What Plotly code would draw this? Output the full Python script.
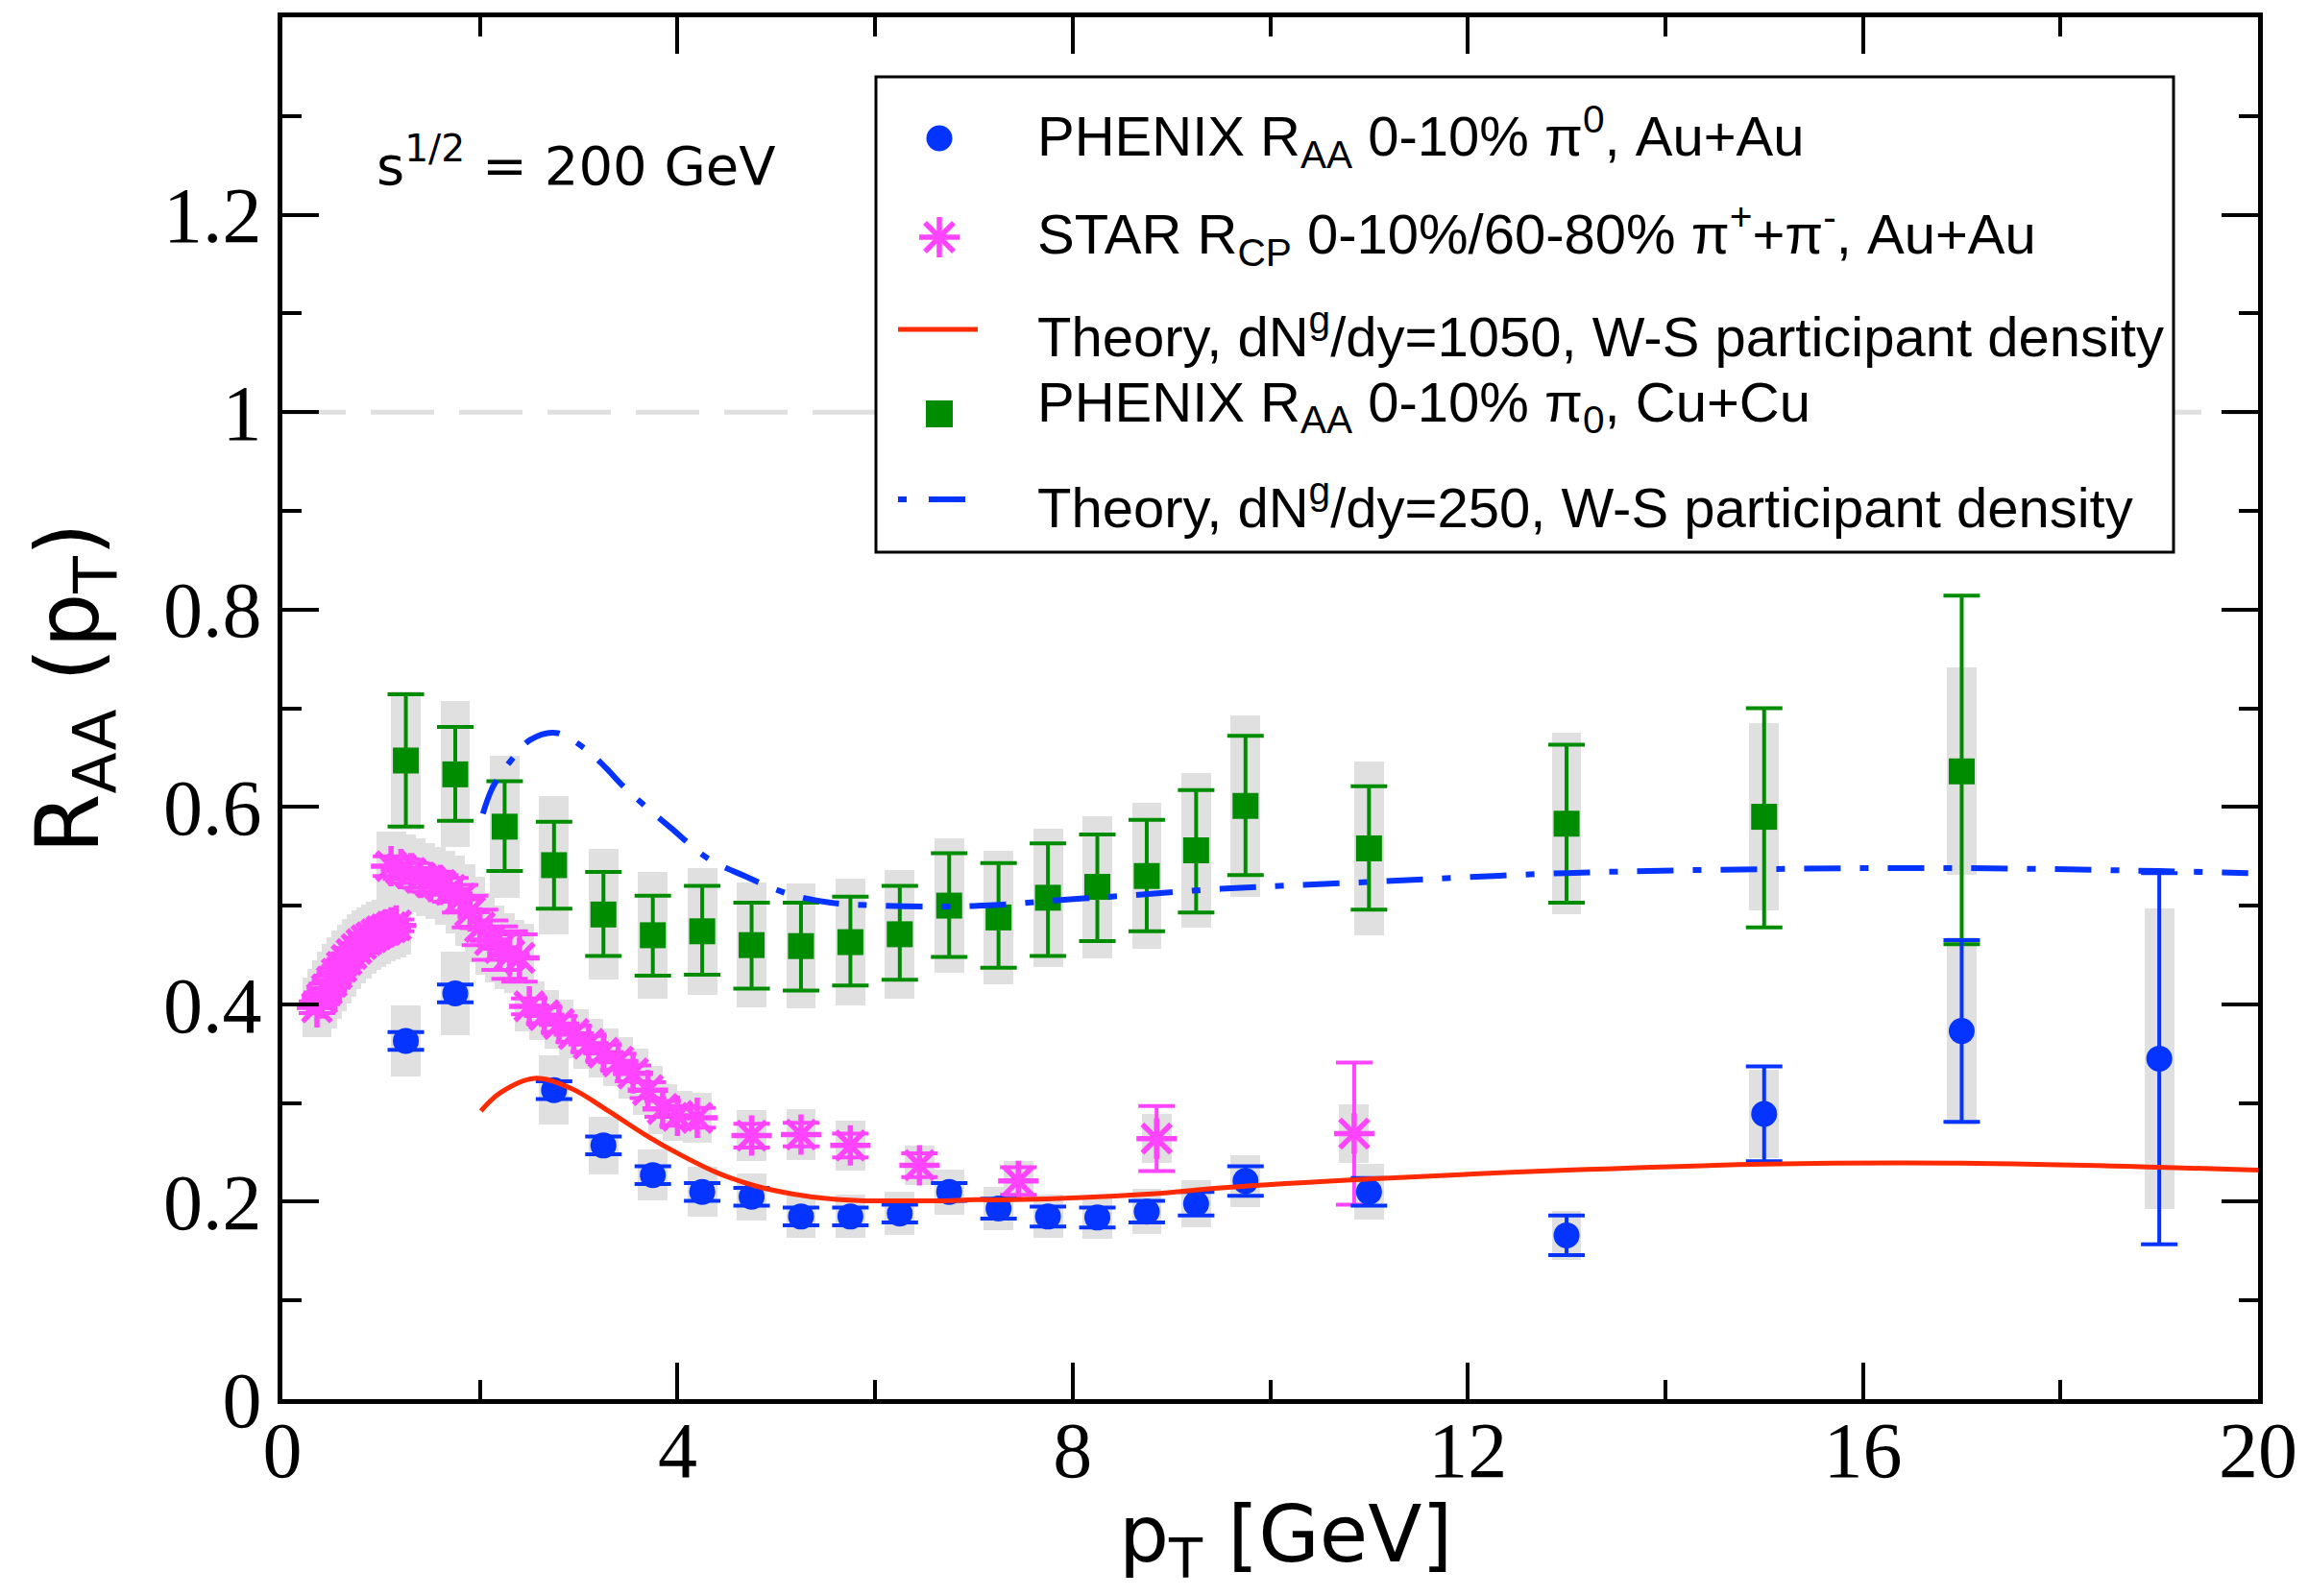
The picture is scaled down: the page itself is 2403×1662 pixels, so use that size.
import plotly.graph_objects as go

# ---------------- data ----------------
# PHENIX R_AA 0-10% pi0, Au+Au
blue_x = [1.25, 1.75, 2.75, 3.25, 3.75, 4.25, 4.75, 5.25, 5.75, 6.25, 6.75, 7.25,
          7.75, 8.25, 8.75, 9.25, 9.75, 11.0, 13.0, 15.0, 17.0, 19.0]
blue_y = [0.363, 0.411, 0.313, 0.257, 0.227, 0.210, 0.205, 0.185, 0.185, 0.188, 0.210, 0.193,
          0.185, 0.184, 0.190, 0.198, 0.221, 0.210, 0.166, 0.289, 0.373, 0.345]
blue_err = [0.009, 0.009, 0.009, 0.009, 0.009, 0.009, 0.009, 0.009, 0.009, 0.009, 0.009, 0.010,
            0.010, 0.010, 0.011, 0.012, 0.015, 0.014, 0.020, 0.048, 0.092, 0.188]
blue_sys = [0.036, 0.042, 0.035, 0.029, 0.026, 0.025, 0.024, 0.022, 0.022, 0.022, 0.023, 0.022,
            0.022, 0.022, 0.023, 0.024, 0.026, 0.028, 0.025, 0.045, 0.095, 0.152]

# STAR R_CP 0-10%/60-80% pi+ + pi-, Au+Au
pink_x = [0.35, 0.40, 0.45, 0.50, 0.55, 0.60, 0.65, 0.70, 0.75, 0.80, 0.85, 0.90, 0.95, 1.00,
          1.05, 1.10, 1.15,
          1.10, 1.20, 1.30, 1.40, 1.50, 1.60, 1.70, 1.80, 1.90, 2.00, 2.10, 2.20, 2.30, 2.40,
          2.50, 2.65, 2.80, 2.95, 3.10, 3.25, 3.40, 3.55, 3.70, 3.85, 4.00, 4.20,
          4.75, 5.25, 5.75, 6.45, 7.45, 8.85, 10.85]
pink_y = [0.397, 0.406, 0.415, 0.423, 0.431, 0.438, 0.445, 0.451, 0.456, 0.461, 0.465, 0.468, 0.471, 0.474,
          0.476, 0.478, 0.480,
          0.540, 0.537, 0.533, 0.528, 0.524, 0.521, 0.516, 0.507, 0.494, 0.478, 0.465, 0.457, 0.450, 0.447,
          0.398, 0.389, 0.380, 0.370, 0.360, 0.351, 0.342, 0.330, 0.313, 0.294, 0.287, 0.285,
          0.267, 0.268, 0.257, 0.237, 0.221, 0.264, 0.269]
pink_err = [0.006] * 17 + \
           [0.010, 0.010, 0.010, 0.010, 0.010, 0.010, 0.012, 0.014, 0.016, 0.018, 0.020, 0.022, 0.024, 0.024] + \
           [0.008, 0.008, 0.008, 0.008, 0.008, 0.008, 0.008, 0.008, 0.008, 0.008, 0.010, 0.010] + \
           [0.012, 0.012, 0.012, 0.012, 0.014, 0.033, 0.072]
pink_sys = [0.030] * 17 + [0.035] * 14 + [0.025] * 12 + [0.026, 0.026, 0.025, 0.020, 0.020, 0.025, 0.030]

# PHENIX R_AA 0-10% pi0, Cu+Cu
green_x = [1.25, 1.75, 2.25, 2.75, 3.25, 3.75, 4.25, 4.75, 5.25, 5.75, 6.25, 6.75, 7.25, 7.75,
           8.25, 8.75, 9.25, 9.75, 11.0, 13.0, 15.0, 17.0]
green_y = [0.647, 0.633, 0.580, 0.541, 0.491, 0.470, 0.474, 0.460, 0.459, 0.463, 0.471, 0.500,
           0.488, 0.508, 0.519, 0.530, 0.556, 0.601, 0.558, 0.583, 0.590, 0.636]
green_err_up = [0.067, 0.048, 0.046, 0.044, 0.043, 0.040, 0.046, 0.043, 0.044, 0.046, 0.049, 0.053,
                0.055, 0.055, 0.053, 0.057, 0.061, 0.071, 0.063, 0.080, 0.110, 0.178]
green_err_dn = [0.067, 0.047, 0.045, 0.044, 0.042, 0.041, 0.044, 0.044, 0.045, 0.044, 0.046, 0.052,
                0.051, 0.059, 0.055, 0.056, 0.063, 0.070, 0.062, 0.080, 0.112, 0.175]
green_sys = [0.070, 0.074, 0.072, 0.070, 0.066, 0.064, 0.064, 0.063, 0.063, 0.064, 0.065, 0.068,
             0.068, 0.070, 0.072, 0.074, 0.078, 0.092, 0.088, 0.092, 0.095, 0.105]

# Theory, dN^g/dy = 1050
th1050_x = [2.01, 2.20, 2.55, 2.92, 3.30, 3.67, 4.04, 4.41, 4.79, 5.16, 5.53, 5.90, 6.27, 6.65,
            7.02, 7.39, 8.80, 9.50, 11.0, 13.0, 15.0, 17.0, 19.0, 20.0]
th1050_y = [0.292, 0.310, 0.325, 0.315, 0.292, 0.268, 0.247, 0.229, 0.216, 0.208, 0.203, 0.201, 0.201, 0.201,
            0.202, 0.202, 0.208, 0.214, 0.223, 0.232, 0.238, 0.239, 0.235, 0.232]

# Theory, dN^g/dy = 250
th250_x = [2.03, 2.13, 2.33, 2.51, 2.77, 3.09, 3.28, 3.45, 3.74, 3.93, 4.32, 4.68, 5.12, 5.55,
           6.05, 6.67, 7.29, 7.91, 8.53, 9.50, 11.0, 13.0, 15.0, 17.0, 19.0, 19.9]
th250_y = [0.593, 0.620, 0.649, 0.668, 0.675, 0.657, 0.639, 0.621, 0.595, 0.579, 0.547, 0.530, 0.512, 0.503,
           0.500, 0.499, 0.501, 0.506, 0.510, 0.517, 0.524, 0.533, 0.537, 0.538, 0.535, 0.533]

y_ticks = [0, 0.2, 0.4, 0.6, 0.8, 1.0, 1.2]
y_ticktext = ["0", "0.2", "0.4", "0.6", "0.8", "1", "1.2"]

legend_labels = [
    "PHENIX R<sub>AA</sub> 0-10% π<sup>0</sup>, Au+Au",
    "STAR R<sub>CP</sub> 0-10%/60-80% π<sup>+</sup>+π<sup>-</sup>, Au+Au",
    "Theory, dN<sup>g</sup>/dy=1050, W-S participant density",
    "PHENIX R<sub>AA</sub> 0-10% π<sub>0</sub>, Cu+Cu",
    "Theory, dN<sup>g</sup>/dy=250, W-S participant density",
]

# ---------------- styles ----------------
BLUE = "#0533ff"
PINK = "#ff44ff"
GREEN = "#008c00"
RED = "#ff2a00"
GRAY = "#e0e0e0"
SANS = "Liberation Sans"
WIDE = "DejaVu Sans"
SERIF = "Liberation Serif"

W, H = 2403, 1662
ML, MR, MT, MB = 294, 52, 18, 205
PW, PH = W - ML - MR, H - MT - MB


def px(fx):   # page pixel -> paper x
    return (fx - ML) / PW


def py(fy):   # page pixel -> paper y
    return (H - MB - fy) / PH


fig = go.Figure()


def sys_boxes(xs, ys, ss):
    return go.Bar(x=xs, y=[2 * s for s in ss], base=[y - s for y, s in zip(ys, ss)],
                  width=0.3, marker=dict(color=GRAY, line=dict(width=0)),
                  showlegend=False, hoverinfo="skip")


fig.add_trace(sys_boxes(pink_x, pink_y, pink_sys))
fig.add_trace(sys_boxes(green_x, green_y, green_sys))
fig.add_trace(sys_boxes(blue_x, blue_y, blue_sys))

fig.add_trace(go.Scatter(
    x=green_x, y=green_y, mode="markers", name=legend_labels[3],
    marker=dict(symbol="square", size=27, color=GREEN),
    error_y=dict(type="data", array=green_err_up, arrayminus=green_err_dn, symmetric=False,
                 color=GREEN, thickness=4, width=19)))

fig.add_trace(go.Scatter(
    x=pink_x, y=pink_y, mode="markers", name=legend_labels[1],
    marker=dict(symbol="asterisk-open", size=35, color=PINK, line=dict(color=PINK, width=5.5)),
    error_y=dict(type="data", array=pink_err, color=PINK, thickness=4, width=19)))

fig.add_trace(go.Scatter(
    x=blue_x, y=blue_y, mode="markers", name=legend_labels[0],
    marker=dict(symbol="circle", size=27, color=BLUE),
    error_y=dict(type="data", array=blue_err, color=BLUE, thickness=4, width=19)))

fig.add_trace(go.Scatter(
    x=th1050_x, y=th1050_y, mode="lines", name=legend_labels[2],
    line=dict(color=RED, width=5, shape="spline", smoothing=1.0)))

fig.add_trace(go.Scatter(
    x=th250_x, y=th250_y, mode="lines", name=legend_labels[4],
    line=dict(color=BLUE, width=6, shape="spline", smoothing=1.0, dash="38px,20px,9px,20px")))

# reference line at R = 1
fig.add_shape(type="line", xref="x", yref="y", x0=0, x1=20, y0=1, y1=1,
              line=dict(color=GRAY, width=5, dash="66px,26px"), layer="below")

# ---------------- legend (drawn box) ----------------
fig.add_shape(type="rect", xref="paper", yref="paper",
              x0=px(912), x1=px(2263), y0=py(575), y1=py(80),
              fillcolor="white", line=dict(color="black", width=3), layer="above")

row_y = [143, 245, 346, 423, 524]
sym_x = 978
for lab, ry in zip(legend_labels, row_y):
    fig.add_annotation(text=lab, xref="paper", yref="paper", x=px(1078), y=py(ry),
                       xanchor="left", yanchor="middle", showarrow=False,
                       font=dict(family=SANS, size=58, color="black"))

# circle swatch
fig.add_shape(type="circle", xref="paper", yref="paper", xsizemode="pixel", ysizemode="pixel",
              xanchor=px(sym_x), yanchor=py(row_y[0] + 1), x0=-13.5, x1=13.5, y0=-13.5, y1=13.5,
              fillcolor=BLUE, line=dict(width=0), layer="above")
# asterisk swatch
for dx, dy in [(21, 0), (0, 21), (15, 15), (15, -15)]:
    fig.add_shape(type="line", xref="paper", yref="paper", xsizemode="pixel", ysizemode="pixel",
                  xanchor=px(sym_x), yanchor=py(row_y[1] + 2), x0=-dx, x1=dx, y0=-dy, y1=dy,
                  line=dict(color=PINK, width=5.5), layer="above")
# red line swatch
fig.add_shape(type="line", xref="paper", yref="paper", x0=px(935), x1=px(1018),
              y0=py(row_y[2] - 3), y1=py(row_y[2] - 3), line=dict(color=RED, width=5), layer="above")
# square swatch
fig.add_shape(type="rect", xref="paper", yref="paper", xsizemode="pixel", ysizemode="pixel",
              xanchor=px(sym_x), yanchor=py(row_y[3] + 8), x0=-14, x1=14, y0=-14, y1=14,
              fillcolor=GREEN, line=dict(width=0), layer="above")
# dash-dot swatch
fig.add_shape(type="line", xref="paper", yref="paper", x0=px(935), x1=px(944),
              y0=py(row_y[4] - 4), y1=py(row_y[4] - 4), line=dict(color=BLUE, width=6), layer="above")
fig.add_shape(type="line", xref="paper", yref="paper", x0=px(967), x1=px(1005),
              y0=py(row_y[4] - 4), y1=py(row_y[4] - 4), line=dict(color=BLUE, width=6), layer="above")

# ---------------- texts ----------------
fig.add_annotation(text="s<sup>1/2</sup> = 200 GeV", xref="paper", yref="paper",
                   x=px(390), y=py(168), xanchor="left", yanchor="middle", showarrow=False,
                   font=dict(family=WIDE, size=56, color="black"))

fig.add_annotation(text="R<sub>AA</sub> (p<sub>T</sub>)", xref="paper", yref="paper",
                   x=px(77), y=py(717), xanchor="center", yanchor="middle", textangle=-90,
                   showarrow=False, font=dict(family=WIDE, size=90, color="black"))

fig.add_annotation(text="p<sub>T</sub> [GeV]", xref="paper", yref="paper",
                   x=px(1338), y=py(1603), xanchor="center", yanchor="middle",
                   showarrow=False, font=dict(family=WIDE, size=82, color="black"))

axis_common = dict(showline=True, linewidth=5, linecolor="black", mirror="ticks",
                   ticks="inside", ticklen=38, tickwidth=4, tickcolor="black",
                   showgrid=False, zeroline=False,
                   tickfont=dict(family=SERIF, size=82, color="black"))

fig.update_xaxes(range=[0, 20], tickmode="linear", tick0=0, dtick=4, ticklabelstandoff=-22,
                 minor=dict(ticks="inside", ticklen=20, tickwidth=4, tickcolor="black",
                            tickmode="linear", tick0=0, dtick=2, showgrid=False),
                 **axis_common)
fig.update_yaxes(range=[0, 1.4], tickmode="array", tickvals=y_ticks, ticktext=y_ticktext,
                 minor=dict(ticks="inside", ticklen=20, tickwidth=4, tickcolor="black",
                            tickmode="linear", tick0=0, dtick=0.1, showgrid=False),
                 **axis_common)

fig.update_layout(
    width=W, height=H, autosize=False,
    margin=dict(l=ML, r=MR, t=MT, b=MB),
    paper_bgcolor="white", plot_bgcolor="white",
    barmode="overlay", bargap=0,
    showlegend=False,
)

fig.write_html("out.html")
